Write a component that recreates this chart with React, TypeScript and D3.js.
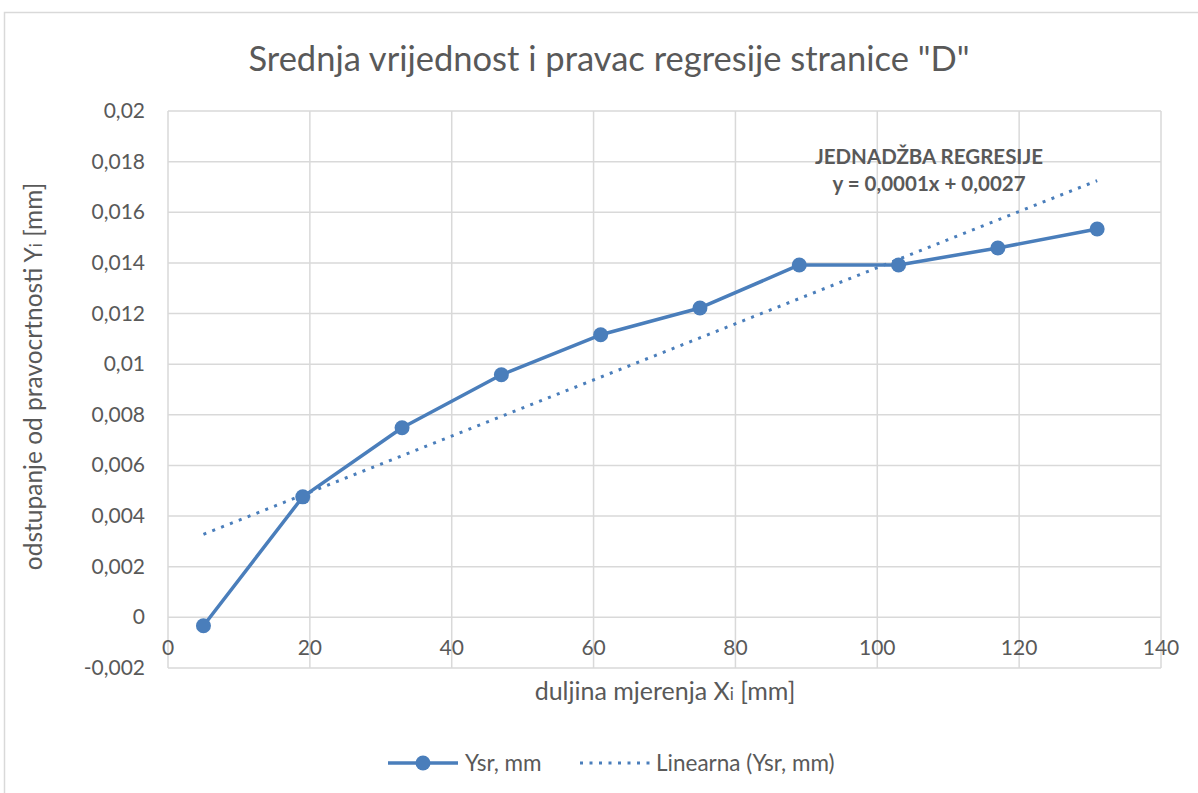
import React from 'react';
import * as d3 from 'd3';

const xValues = [5, 19, 33, 47, 61, 75, 89, 103, 117, 131];
const yValues = [-0.00033, 0.00476, 0.00749, 0.00958, 0.01116, 0.01222, 0.01392, 0.01392, 0.01459, 0.01534];
const xTicks = [0, 20, 40, 60, 80, 100, 120, 140];
const yTicks = [-0.002, 0, 0.002, 0.004, 0.006, 0.008, 0.01, 0.012, 0.014, 0.016, 0.018, 0.02];

const width = 1198;
const height = 793;
const plot = { left: 168, right: 1161, top: 111, bottom: 668 };
const blue = '#4a7ebb';
const textColor = '#595959';
const gridColor = '#d9d9d9';
const font = 'Lato, "Open Sans", sans-serif';

const fmt = (v: number) => {
  if (Math.abs(v) < 1e-12) return '0';
  return String(+v.toFixed(3)).replace('.', ',');
};

// least squares fit, same as the Excel trendline
const regression = () => {
  const mx = d3.mean(xValues) as number;
  const my = d3.mean(yValues) as number;
  let sxy = 0;
  let sxx = 0;
  xValues.forEach((x, i) => {
    sxy += (x - mx) * (yValues[i] - my);
    sxx += (x - mx) * (x - mx);
  });
  const slope = sxy / sxx;
  return { slope, intercept: my - slope * mx };
};

export default function App() {
  const xScale = d3.scaleLinear().domain([0, 140]).range([plot.left, plot.right]);
  const yScale = d3.scaleLinear().domain([-0.002, 0.02]).range([plot.bottom, plot.top]);
  const data = xValues.map((x, i) => ({ x, y: yValues[i] }));
  const line = d3
    .line<{ x: number; y: number }>()
    .x((d) => xScale(d.x))
    .y((d) => yScale(d.y));
  const { slope, intercept } = regression();
  const x0 = xValues[0];
  const x1 = xValues[xValues.length - 1];

  return (
    <svg
      width={width}
      height={height}
      style={{ position: 'absolute', left: 0, top: 0, background: '#fff' }}
      fontFamily={font}
    >
      <rect x={4.5} y={12.5} width={1250} height={900} fill="#fff" stroke={gridColor} strokeWidth={1.5} />
      <text x={609} y={71} textAnchor="middle" fontSize={34.5} fill={textColor}>
        Srednja vrijednost i pravac regresije stranice "D"
      </text>

      <g className="grid">
        {yTicks.map((t) => (
          <line
            key={'h' + t}
            x1={plot.left}
            x2={plot.right}
            y1={yScale(t)}
            y2={yScale(t)}
            stroke={gridColor}
            strokeWidth={1.5}
          />
        ))}
        {xTicks.map((t) => (
          <line
            key={'v' + t}
            x1={xScale(t)}
            x2={xScale(t)}
            y1={plot.top}
            y2={plot.bottom}
            stroke={gridColor}
            strokeWidth={1.5}
          />
        ))}
      </g>

      <g className="y-ticks" fontSize={21} fill={textColor} textAnchor="end">
        {yTicks.map((t) => (
          <text key={t} x={145} y={yScale(t) + 7}>
            {fmt(t)}
          </text>
        ))}
      </g>
      <g className="x-ticks" fontSize={21} fill={textColor} textAnchor="middle">
        {xTicks.map((t) => (
          <text key={t} x={xScale(t)} y={yScale(0) + 38}>
            {t}
          </text>
        ))}
      </g>

      <text
        transform={`translate(42, ${(plot.top + plot.bottom) / 2 - 13}) rotate(-90)`}
        textAnchor="middle"
        fontSize={24.5}
        fill={textColor}
      >
        odstupanje od pravocrtnosti Y<tspan fontSize={17}>i</tspan> [mm]
      </text>
      <text x={665} y={700} textAnchor="middle" fontSize={25} fill={textColor}>
        duljina mjerenja X<tspan fontSize={17}>i</tspan> [mm]
      </text>

      <line
        x1={xScale(x0)}
        x2={xScale(x1)}
        y1={yScale(slope * x0 + intercept)}
        y2={yScale(slope * x1 + intercept)}
        stroke={blue}
        strokeWidth={3}
        strokeDasharray="3 6.5"
      />
      <path d={line(data) || ''} fill="none" stroke={blue} strokeWidth={3.5} strokeLinejoin="round" />
      {data.map((d) => (
        <circle key={d.x} cx={xScale(d.x)} cy={yScale(d.y)} r={7.5} fill={blue} />
      ))}

      <g fontSize={20.5} fontWeight="bold" fill={textColor} textAnchor="middle">
        <text x={929} y={164}>JEDNADŽBA REGRESIJE</text>
        <text x={929} y={191}>y = 0,0001x + 0,0027</text>
      </g>

      <g className="legend" fontSize={22.5} fill={textColor}>
        <line x1={388} x2={458} y1={763} y2={763} stroke={blue} strokeWidth={3.5} />
        <circle cx={423} cy={763} r={7.5} fill={blue} />
        <text x={465} y={771}>Ysr, mm</text>
        <line x1={580} x2={650} y1={763} y2={763} stroke={blue} strokeWidth={3} strokeDasharray="3 6.5" />
        <text x={656} y={771}>Linearna (Ysr, mm)</text>
      </g>
    </svg>
  );
}
